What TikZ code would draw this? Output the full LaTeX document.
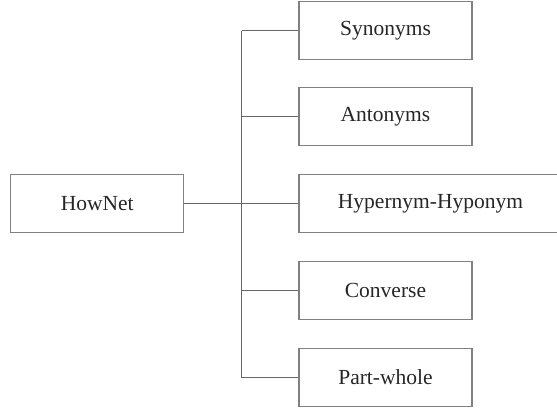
\documentclass[tikz,border=0pt]{standalone}
\usepackage{fontspec}
\setmainfont{Liberation Serif}
\begin{document}
\begin{tikzpicture}[x=1pt,y=-1pt,
  box/.style={draw=black!50,line width=1.1pt,minimum width=173pt,minimum height=58pt,inner sep=0pt,font=\fontsize{21.5}{25}\selectfont,text=black!85},
  conn/.style={draw=black!60,line width=1pt}]
\useasboundingbox (0,0) rectangle (557,408);
\node[box] (hn) at (97.2,203.7) {HowNet};
\node[box] (s1) at (385.5,30.8) {Synonyms};
\node[box] (s2) at (385.5,116.8) {Antonyms};
\node[box,minimum width=263pt] (s3) at (430.5,203.7) {Hypernym-Hyponym};
\node[box] (s4) at (385.5,290.5) {Converse};
\node[box] (s5) at (385.5,377.5) {Part-whole};
\coordinate (top) at (241.7,30.8);
\coordinate (bot) at (241.7,377.5);
\draw[conn] (top) -- (bot);
\draw[conn] (hn.east) -- (s3.west);
\foreach \n in {s2,s4}{\draw[conn] (\n.west) -- (\n.west -| top);}
\draw[conn] (s1.west) -- (top);
\draw[conn] (s5.west) -- (bot);
\end{tikzpicture}
\end{document}
